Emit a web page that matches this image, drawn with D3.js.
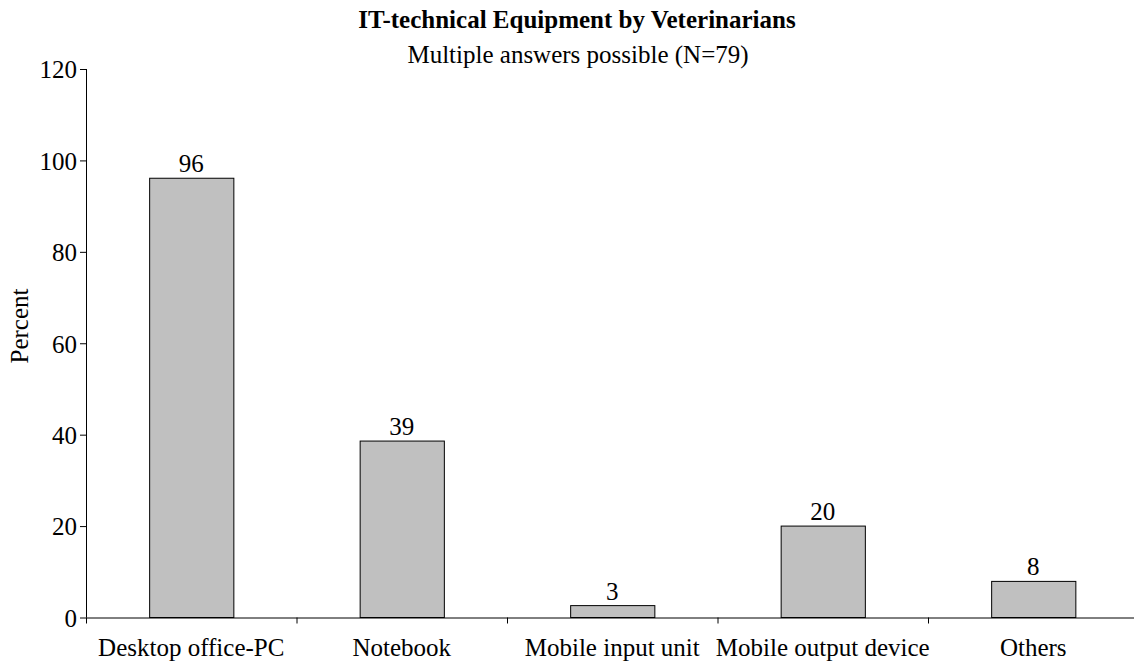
<!DOCTYPE html>
<html><head><meta charset="utf-8">
<script src="https://cdn.jsdelivr.net/npm/d3@7"></script>
<style>body{margin:0;background:#fff}svg{display:block}text{font-family:"Liberation Serif","Times New Roman",serif;fill:#000}</style>
</head><body><svg id="c" width="1134" height="664"></svg>
<script>
const categories = ["Desktop office-PC", "Notebook", "Mobile input unit", "Mobile output device", "Others"];
const values = [96.1, 38.6, 2.6, 20.0, 7.9];
const yTicks = [0, 20, 40, 60, 80, 100, 120];
const title = "IT-technical Equipment by Veterinarians";
const subtitle = "Multiple answers possible (N=79)";
const yLabel = "Percent";

(function(){
const svg = d3.select("#c");
const pL = 86, pR = 1138.5, pT = 69, pB = 617.5;
const x = d3.scaleBand().domain(categories).range([pL, pR]).padding(0);
const y = d3.scaleLinear().domain([0, 120]).range([pB, pT]);
const fs = 25;

const bw = x.bandwidth();
svg.append("g").selectAll("rect").data(values).join("rect")
  .attr("x", (d,i) => x(categories[i]) + bw*0.3 + 0.5)
  .attr("width", bw*0.4)
  .attr("y", d => y(d))
  .attr("height", d => y(0) - y(d))
  .attr("fill", "#c0c0c0").attr("stroke", "#000").attr("stroke-width", 1);

svg.append("g").selectAll("text").data(values).join("text")
  .attr("x", (d,i) => x(categories[i]) + bw/2)
  .attr("y", d => y(d) - 6)
  .attr("text-anchor", "middle").attr("font-size", fs)
  .text(d => Math.round(d));

const ya = svg.append("g").attr("transform", `translate(${pL},0)`)
  .call(d3.axisLeft(y).tickValues(yTicks).tickSize(6).tickPadding(3).tickFormat(d3.format("d")));
ya.select(".domain").attr("d", `M0.5,${pT}V${pB}`).attr("stroke", "#000");
ya.selectAll(".tick line").attr("stroke", "#000").attr("x1", -6).attr("x2", 0);
ya.selectAll(".tick text").attr("font-size", fs).attr("font-family", '"Liberation Serif",serif').attr("fill", "#000").attr("dy", "0.35em");

const xa = svg.append("g").attr("transform", `translate(0,${pB})`);
xa.append("line").attr("x1", pL).attr("x2", 1134).attr("y1", 0.5).attr("y2", 0.5).attr("stroke", "#000");
const bounds = categories.map(c => x(c)).concat([pR]);
xa.selectAll("line.t").data(bounds).join("line").attr("class", "t")
  .attr("x1", d => d + 0.5).attr("x2", d => d + 0.5).attr("y1", 0).attr("y2", 6).attr("stroke", "#000");
xa.selectAll("text").data(categories).join("text")
  .attr("x", d => x(d) + bw/2).attr("y", 38)
  .attr("text-anchor", "middle").attr("font-size", fs).text(d => d);

svg.append("text").attr("x", 577).attr("y", 28).attr("text-anchor", "middle")
  .attr("font-size", fs).attr("font-weight", "bold").text(title);
svg.append("text").attr("x", 578).attr("y", 63).attr("text-anchor", "middle")
  .attr("font-size", fs).text(subtitle);
svg.append("text").attr("transform", "translate(28,326) rotate(-90)")
  .attr("text-anchor", "middle").attr("font-size", fs).text(yLabel);
})();
</script></body></html>
